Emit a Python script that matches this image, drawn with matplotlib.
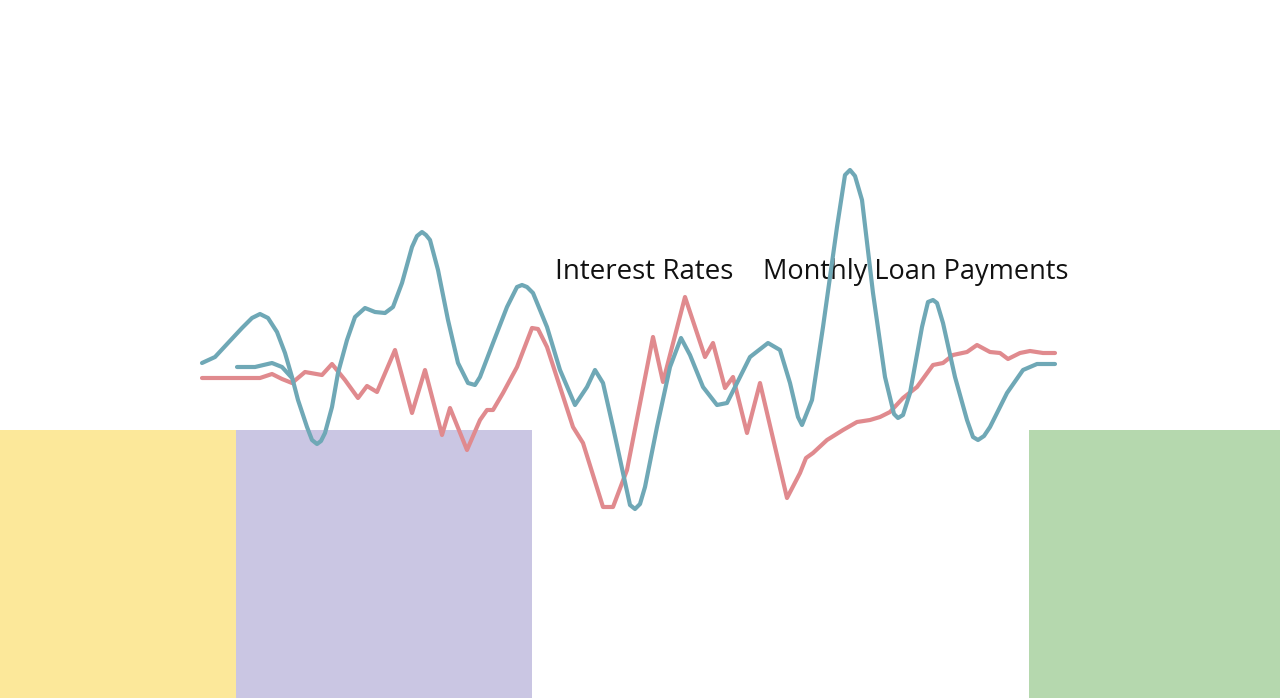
import matplotlib.pyplot as plt

# time axis / values
teal_x = [20.2, 21.5, 22.8, 24.2, 25.2, 26.0, 26.8, 27.7, 28.5, 29.2, 29.8, 30.7, 31.2, 31.7,
          32.1, 32.5, 33.2, 33.8, 34.7, 35.5, 36.5, 37.5, 38.5, 39.3, 40.2, 41.2, 41.7, 42.2,
          42.6, 43.0, 43.8, 44.8, 45.8, 46.8, 47.5, 48.0, 49.3, 50.7, 51.7, 52.2, 52.7, 53.3,
          54.7, 56.0, 57.5, 58.7, 59.5, 60.3, 61.3, 62.3, 63.0, 63.5, 64.0, 64.5, 65.7, 67.0,
          68.1, 69.0, 70.3, 71.7, 72.7, 73.7, 75.0, 76.8, 78.0, 79.0, 79.8, 80.2, 81.2, 82.3,
          83.7, 84.5, 85.0, 85.5, 86.2, 87.3, 88.5, 89.4, 89.8, 90.3, 91.0, 92.2, 92.8, 93.3,
          93.7, 94.3, 95.5, 96.7, 97.3, 97.8, 98.4, 99.0, 100.7, 102.3, 103.7, 105.5]
teal_y = [33.5, 34.1, 35.5, 37.0, 38.0, 38.4, 38.0, 36.6, 34.5, 32.1, 29.8, 27.1, 25.8, 25.4,
          25.7, 26.5, 29.1, 32.5, 35.8, 38.1, 39.0, 38.6, 38.5, 39.1, 41.5, 45.1, 46.2, 46.6,
          46.3, 45.8, 42.8, 37.8, 33.5, 31.5, 31.3, 32.1, 35.5, 39.1, 41.1, 41.3, 41.1, 40.5,
          37.1, 32.8, 29.3, 31.1, 32.8, 31.5, 27.1, 22.5, 19.3, 18.9, 19.4, 21.1, 27.1, 33.1,
          36.0, 34.3, 31.1, 29.3, 29.5, 31.5, 34.1, 35.5, 34.8, 31.5, 28.1, 27.3, 29.8, 37.1,
          47.1, 52.3, 52.8, 52.2, 49.8, 40.5, 32.1, 28.4, 28.0, 28.3, 30.5, 37.1, 39.6, 39.8,
          39.5, 37.5, 32.1, 27.8, 26.1, 25.8, 26.2, 27.1, 30.5, 32.8, 33.4, 33.4]

teal2_x = [23.7, 25.5, 27.2, 28.2, 29.2]
teal2_y = [33.1, 33.1, 33.5, 33.1, 32.0]

red_x = [20.2, 26.0, 27.2, 28.2, 29.2, 30.5, 32.2, 33.2, 34.5, 35.8, 36.7, 37.7, 39.5, 41.2,
         42.5, 44.2, 45.0, 46.7, 48.0, 48.7, 49.3, 50.3, 51.7, 53.2, 53.8, 54.7, 56.0, 57.3,
         58.3, 60.3, 61.3, 62.7, 65.3, 66.3, 68.5, 70.5, 71.3, 72.5, 73.3, 74.7, 76.0, 78.7,
         80.0, 80.6, 81.3, 82.7, 84.3, 85.7, 87.0, 88.0, 89.0, 90.3, 91.7, 93.3, 94.3, 95.3,
         96.7, 97.7, 99.0, 100.0, 100.8, 102.0, 103.0, 104.3, 105.5]
red_y = [32.0, 32.0, 32.4, 31.9, 31.5, 32.6, 32.3, 33.4, 31.8, 30.0, 31.2, 30.6, 34.8, 28.5,
         32.8, 26.3, 29.0, 24.8, 27.8, 28.8, 28.8, 30.5, 33.1, 37.0, 36.9, 35.1, 31.1, 27.1,
         25.5, 19.1, 19.1, 22.8, 36.1, 31.6, 40.1, 34.1, 35.5, 31.0, 32.1, 26.5, 31.5, 20.0,
         22.5, 24.0, 24.5, 25.8, 26.8, 27.6, 27.8, 28.1, 28.6, 30.0, 31.1, 33.3, 33.5, 34.3,
         34.6, 35.3, 34.6, 34.5, 33.9, 34.5, 34.7, 34.5, 34.5]

# background blocks
block_left = [0.0, 23.6, 102.9]
block_width = [23.6, 29.6, 25.1]
block_height = [26.8, 26.8, 26.8]
block_colors = ["#fce89a", "#cac6e3", "#b5d8ae"]

labels = ["Interest Rates", "Monthly Loan Payments"]
label_x = [55.5, 76.3]
label_y = 42.6

fig = plt.figure(figsize=(12.8, 6.98), dpi=100)
ax = fig.add_axes([0, 0, 1, 1])
ax.set_xlim(0, 128)
ax.set_ylim(0, 69.8)
ax.axis("off")

ax.bar(block_left, block_height, width=block_width, align="edge",
       color=block_colors, zorder=0)

line_kw = dict(lw=3, solid_capstyle="round", solid_joinstyle="round")
ax.plot(teal_x, teal_y, color="#6fa8b6", zorder=3, **line_kw)
ax.plot(teal2_x, teal2_y, color="#6fa8b6", zorder=3, **line_kw)
ax.plot(red_x, red_y, color="#e08a8e", zorder=2, **line_kw)

for lab, lx, fs in zip(labels, label_x, [20, 19.5]):
    ax.text(lx, label_y, lab, fontsize=fs, family="Open Sans",
            ha="left", va="center", color="#111111", zorder=1)

fig.savefig("out.png", dpi=100)
